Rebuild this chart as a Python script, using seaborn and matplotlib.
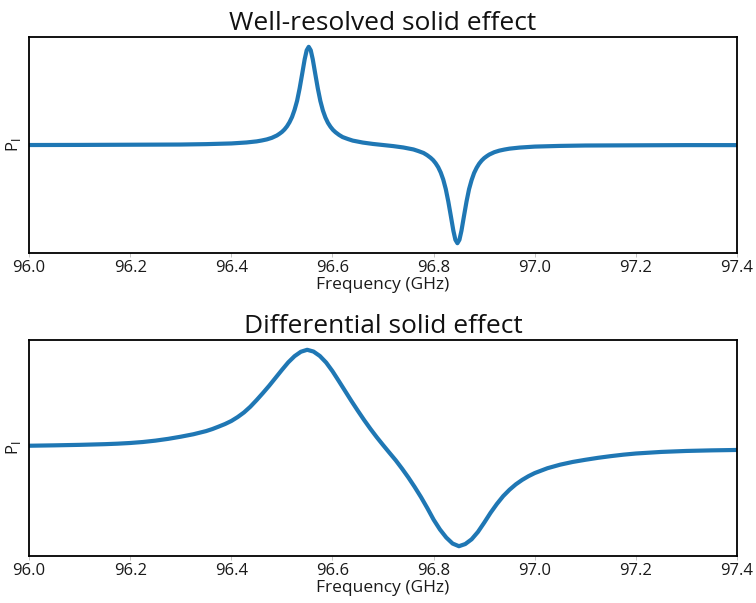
import numpy as np
import pandas as pd
import matplotlib
matplotlib.use("Agg")
import matplotlib.pyplot as plt
import seaborn as sns

# well-resolved solid effect: sharp positive/negative lines at 96.553 / 96.847 GHz
freq_resolved = [
    96.00, 96.10, 96.20, 96.30, 96.35, 96.40, 96.43, 96.45, 96.46, 96.47,
    96.48, 96.49, 96.495, 96.50, 96.505, 96.51, 96.515, 96.52, 96.525, 96.53,
    96.535, 96.54, 96.545, 96.549, 96.553, 96.557, 96.561, 96.566, 96.571, 96.576,
    96.581, 96.586, 96.591, 96.596, 96.601, 96.606, 96.613, 96.62, 96.63, 96.64,
    96.66, 96.68, 96.70, 96.72, 96.74, 96.76, 96.77, 96.78, 96.787, 96.794,
    96.799, 96.804, 96.809, 96.814, 96.819, 96.824, 96.829, 96.834, 96.839, 96.843,
    96.847, 96.851, 96.855, 96.86, 96.865, 96.87, 96.875, 96.88, 96.885, 96.89,
    96.895, 96.90, 96.905, 96.91, 96.92, 96.93, 96.94, 96.95, 96.97, 97.00,
    97.05, 97.10, 97.20, 97.30, 97.40,
]
pol_resolved = [
    0.0, 0.001, 0.003, 0.005, 0.009, 0.016, 0.026, 0.037, 0.046, 0.057,
    0.073, 0.097, 0.114, 0.133, 0.158, 0.19, 0.232, 0.285, 0.358, 0.45,
    0.576, 0.723, 0.873, 0.965, 1.0, 0.965, 0.873, 0.723, 0.576, 0.449,
    0.352, 0.28, 0.226, 0.186, 0.154, 0.13, 0.103, 0.081, 0.062, 0.045,
    0.025, 0.011, 0.0, -0.011, -0.025, -0.045, -0.062, -0.081, -0.103, -0.13,
    -0.154, -0.186, -0.226, -0.28, -0.352, -0.449, -0.576, -0.723, -0.873, -0.965,
    -1.0, -0.965, -0.873, -0.723, -0.576, -0.45, -0.358, -0.285, -0.232, -0.19,
    -0.158, -0.133, -0.114, -0.097, -0.073, -0.057, -0.046, -0.037, -0.026, -0.016,
    -0.009, -0.005, -0.003, -0.001, -0.001,
]

# differential solid effect: broad overlapping lines
freq_differential = [
    96.00, 96.05, 96.10, 96.15, 96.175, 96.20, 96.225, 96.25, 96.275, 96.30,
    96.325, 96.35, 96.3625, 96.375, 96.3875, 96.40, 96.4125, 96.425, 96.4375, 96.45,
    96.4625, 96.475, 96.4875, 96.50, 96.5125, 96.525, 96.5375, 96.55, 96.5625, 96.575,
    96.5875, 96.60, 96.6125, 96.625, 96.6375, 96.65, 96.6625, 96.675, 96.6875, 96.70,
    96.7125, 96.725, 96.7375, 96.75, 96.7625, 96.775, 96.7875, 96.80, 96.8125, 96.825,
    96.8375, 96.85, 96.8625, 96.875, 96.8875, 96.90, 96.9125, 96.925, 96.9375, 96.95,
    96.9625, 96.975, 96.9875, 97.00, 97.025, 97.05, 97.075, 97.10, 97.125, 97.15,
    97.175, 97.20, 97.25, 97.30, 97.35, 97.40,
]
pol_differential = [
    0.023, 0.027, 0.032, 0.039, 0.044, 0.051, 0.061, 0.075, 0.093, 0.115,
    0.140, 0.172, 0.193, 0.218, 0.244, 0.275, 0.315, 0.362, 0.420, 0.488,
    0.560, 0.635, 0.715, 0.795, 0.872, 0.935, 0.980, 1.000, 0.982, 0.937,
    0.870, 0.782, 0.682, 0.580, 0.478, 0.380, 0.285, 0.195, 0.110, 0.030,
    -0.048, -0.125, -0.210, -0.300, -0.397, -0.500, -0.612, -0.730, -0.830, -0.912,
    -0.973, -1.000, -0.978, -0.930, -0.855, -0.760, -0.660, -0.570, -0.490, -0.425,
    -0.370, -0.325, -0.287, -0.255, -0.206, -0.170, -0.142, -0.120, -0.100, -0.083,
    -0.068, -0.056, -0.040, -0.030, -0.024, -0.020,
]

titles = ["Well-resolved solid effect", "Differential solid effect"]

sns.set_theme(style="white")
plt.rcParams["font.family"] = ["Open Sans", "DejaVu Sans"]

fig = plt.figure(figsize=(7.56, 6.03), dpi=100)
ax1 = fig.add_axes([0.0384, 0.5804, 0.9366, 0.3582])
ax2 = fig.add_axes([0.0384, 0.0779, 0.9366, 0.3583])

datasets = [
    pd.DataFrame({"freq": freq_resolved, "pol": pol_resolved}),
    pd.DataFrame({"freq": freq_differential, "pol": pol_differential}),
]

xticks = [96.0, 96.2, 96.4, 96.6, 96.8, 97.0, 97.2, 97.4]

for ax, df, title in zip([ax1, ax2], datasets, titles):
    sns.lineplot(data=df, x="freq", y="pol", ax=ax, color="#1f77b4", linewidth=3.0)
    ax.set_xlim(96.0, 97.4)
    ax.set_ylim(-1.1, 1.1)
    ax.set_xticks(xticks)
    ax.set_xticklabels([f"{t:.1f}" for t in xticks])
    ax.set_yticks([])
    ax.tick_params(axis="x", bottom=True, length=3, width=0.6, colors="#bbbbbb",
                   labelcolor="#1a1a1a", labelsize=12, pad=2)
    for sp in ax.spines.values():
        sp.set_color("black")
        sp.set_linewidth(1.3)
    ax.set_title(title, fontsize=19, pad=5, color="#111111")
    ax.set_xlabel("Frequency (GHz)", fontsize=12.5, labelpad=1, color="#1a1a1a")
    ax.set_ylabel(r"P$_\mathrm{I}$", fontsize=12, labelpad=4, color="#1a1a1a")

fig.savefig("out.png", dpi=100)
